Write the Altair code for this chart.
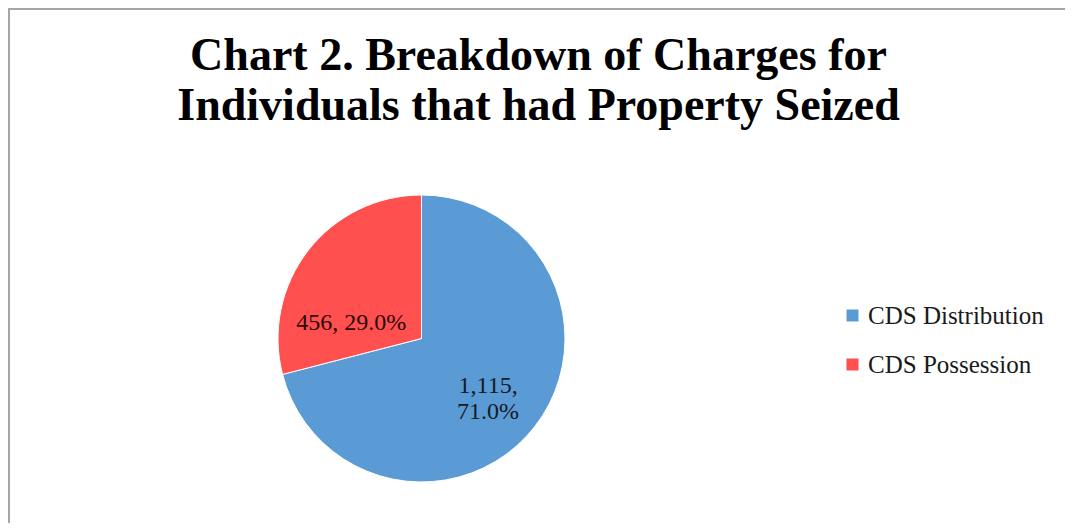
import altair as alt
import pandas as pd

categories = ["CDS Distribution", "CDS Possession"]
counts = [1115, 456]
percents = [71.0, 29.0]
label_joins = ["\n", " "]
colors = ["#5B9BD5", "#FF4F4F"]
title_text = "Chart 2. Breakdown of Charges for\nIndividuals that had Property Seized"

labels = [f"{c:,},{j}{p:.1f}%" for c, p, j in zip(counts, percents, label_joins)]
df = pd.DataFrame({
    "category": categories,
    "count": counts,
    "label": labels,
    "order": list(range(len(categories))),
})

W, H = 1057, 515
CX, CY, R = 413.5, 330.5, 143.5
FONT = "Liberation Serif"

pie = alt.Chart(df).mark_arc(outerRadius=R, stroke="white", strokeWidth=1).encode(
    theta=alt.Theta("count:Q", stack=True),
    order=alt.Order("order:Q"),
    x=alt.value(CX),
    y=alt.value(CY),
    color=alt.Color(
        "category:N",
        scale=alt.Scale(domain=categories, range=colors),
        legend=alt.Legend(
            title=None,
            orient="none",
            legendX=832,
            legendY=295,
            symbolType="square",
            symbolSize=144,
            symbolStrokeWidth=0,
            labelFont=FONT,
            labelFontSize=25,
            labelColor="#1a1a1a",
            labelOffset=3,
            labelLimit=0,
            rowPadding=23,
            padding=0,
        ),
    ),
)

lab_base = alt.Chart(df).transform_stack(
    stack="count", groupby=[], as_=["s0", "s1"], sort=[alt.SortField("order")]
).transform_calculate(mid="(datum.s0 + datum.s1) / 2").encode(
    theta=alt.Theta("mid:Q", stack=None),
    x=alt.value(CX),
    y=alt.value(CY),
    text="label:N",
)

lab_blue = lab_base.transform_filter(alt.datum.category == categories[0]).mark_text(
    radius=88, font=FONT, fontSize=24, color="#141a26", lineBreak="\n",
    lineHeight=26, align="center", baseline="middle", dx=-3, dy=-6
)

lab_red = lab_base.transform_filter(alt.datum.category == categories[1]).mark_text(
    radius=70, font=FONT, fontSize=24, color="#2a0a0a",
    align="center", baseline="middle", dx=-15, dy=27
)

title = alt.Chart(pd.DataFrame({"t": [title_text]})).mark_text(
    font=FONT, fontSize=46, fontWeight="bold", color="#000000",
    lineBreak="\n", lineHeight=50, align="center", baseline="alphabetic"
).encode(text="t:N", x=alt.value(W / 2 + 2), y=alt.value(62))

border_top = alt.Chart(pd.DataFrame({"a": [0]})).mark_rule(color="#a6a6a6", strokeWidth=2).encode(
    x=alt.value(0), x2=alt.value(W), y=alt.value(1)
)
border_left = alt.Chart(pd.DataFrame({"a": [0]})).mark_rule(color="#a6a6a6", strokeWidth=2).encode(
    x=alt.value(1), y=alt.value(0), y2=alt.value(H)
)

chart = alt.layer(pie, lab_blue, lab_red, title, border_top, border_left).properties(
    width=W, height=H,
    autosize=alt.AutoSizeParams(type="none"),
    padding=0,
    background="white",
).configure_view(strokeWidth=0)

chart.save("out.html", embed_options={"renderer": "svg", "actions": False})
